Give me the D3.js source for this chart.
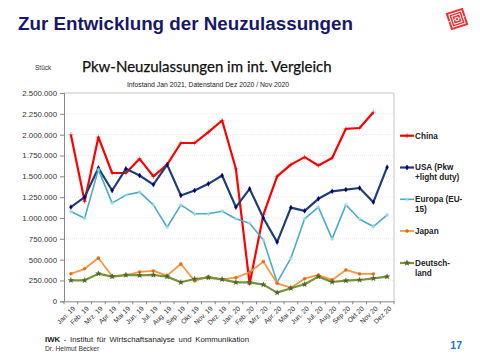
<!DOCTYPE html>
<html><head><meta charset="utf-8">
<script src="https://cdn.jsdelivr.net/npm/d3@7"></script>
<style>html,body{margin:0;padding:0;background:#fff;}svg{display:block;}</style>
</head><body>
<svg id="c" width="480" height="360"></svg>
<script>
const months = ["Jan. 19","Feb. 19","Mrz. 19","Apr. 19","Mai 19","Jun. 19","Jul. 19","Aug. 19","Sep. 19","Okt. 19","Nov. 19","Dez. 19","Jan. 20","Feb. 20","Mrz. 20","Apr. 20","Mai 20","Jun. 20","Jul. 20","Aug 20","Sep 20","Okt 20","Nov 20","Dez 20"];
const china = [2000000,1200000,1970000,1540000,1540000,1710000,1500000,1640000,1900000,1900000,2030000,2170000,1590000,210000,1040000,1500000,1640000,1730000,1630000,1720000,2070000,2080000,2270000,null];
const usa = [1130000,1250000,1600000,1330000,1590000,1510000,1400000,1640000,1270000,1330000,1410000,1510000,1130000,1350000,1000000,710000,1125000,1085000,1230000,1320000,1340000,1360000,1190000,1610000];
const europa = [1077000,997000,1580000,1178000,1275000,1310000,1157000,889000,1157000,1050000,1050000,1080000,990000,937000,737000,228000,517000,990000,1130000,749000,1157000,985000,897000,1037000];
const japan = [330000,390000,520000,300000,312000,352000,364000,308000,448000,244000,296000,264000,284000,349000,476000,216000,164000,272000,316000,256000,376000,328000,328000,null];
const deutschland = [252000,252000,332000,296000,316000,312000,316000,296000,228000,268000,284000,264000,228000,228000,200000,104000,156000,204000,296000,232000,248000,256000,276000,296000];
const yTicks = [0,250000,500000,750000,1000000,1250000,1500000,1750000,2000000,2250000,2500000];
const seriesNames = [["China"],["USA (Pkw","+light duty)"],["Europa (EU-","15)"],["Japan"],["Deutsch-","land"]];

const svg = d3.select("#c");
const F = "Liberation Sans, Arial, sans-serif";
const de = d3.formatLocale({decimal:",",thousands:".",grouping:[3],currency:["","€"]});
const fmt = de.format(",d");

// header
svg.append("text").attr("x",18).attr("y",30).attr("font-family",F).attr("font-weight","bold")
  .attr("font-size",18.8).attr("fill","#17176b").text("Zur Entwicklung der Neuzulassungen");
// logo
const lg = svg.append("g").attr("transform","translate(457,19) rotate(-18)");
lg.append("rect").attr("x",-9).attr("y",-9).attr("width",18).attr("height",18).attr("fill","#f03030");
[6.5,4,1.5].forEach(s=>lg.append("rect").attr("x",-s).attr("y",-s).attr("width",2*s).attr("height",2*s)
  .attr("fill","none").attr("stroke","#fff").attr("stroke-width",1));
lg.append("line").attr("x1",-9).attr("x2",9).attr("y1",0).attr("y2",0).attr("stroke","#fff").attr("stroke-width",0.8).attr("stroke-dasharray","2,3");

svg.append("text").attr("x",35).attr("y",70).attr("font-family",F).attr("font-size",6.5).attr("fill","#333").text("Stück");
svg.append("text").attr("x",82).attr("y",72).attr("font-family","Lato, 'Open Sans', sans-serif")
  .attr("font-size",15).attr("fill","#111").attr("stroke","#111").attr("stroke-width",0.25).text("Pkw-Neuzulassungen im int. Vergleich");
svg.append("text").attr("x",208).attr("y",87).attr("text-anchor","middle").attr("font-family",F)
  .attr("font-size",6.8).attr("fill","#222").text("Infostand  Jan 2021,  Datenstand  Dez 2020 / Nov 2020");

const L=64, R=394, T=93, B=301.3;
const x = d3.scaleBand().domain(months).range([L,R]);
const y = d3.scaleLinear().domain([0,2500000]).range([B,T]);

// grid
svg.append("g").selectAll("line").data(yTicks.slice(1)).join("line")
  .attr("x1",L).attr("x2",R).attr("y1",d=>y(d)).attr("y2",d=>y(d))
  .attr("stroke","#e4e4e4").attr("stroke-width",0.8).attr("stroke-dasharray","1,1");
// top/right border
svg.append("path").attr("d",`M${L},${T}H${R}V${B}`).attr("fill","none").attr("stroke","#c8c8c8").attr("stroke-width",1);

const yAx = svg.append("g").attr("transform",`translate(${L},0)`)
  .call(d3.axisLeft(y).tickValues(yTicks).tickFormat(fmt).tickSize(4).tickPadding(3));
yAx.selectAll("text").attr("font-family",F).attr("font-size",7.8).attr("fill","#333");
yAx.selectAll("line,path").attr("stroke","#888");

const xAx = svg.append("g").attr("transform",`translate(0,${B})`)
  .call(d3.axisBottom(x).tickSize(0).tickPadding(0));
xAx.select("path").attr("stroke","#888");
xAx.selectAll("text").remove();
svg.append("g").selectAll("line").data(months.concat(["end"])).join("line")
  .attr("x1",(d,i)=>L+i*x.step()).attr("x2",(d,i)=>L+i*x.step()).attr("y1",B).attr("y2",B+3).attr("stroke","#888");
svg.append("g").selectAll("text").data(months).join("text")
  .attr("transform",d=>`translate(${x(d)+x.bandwidth()/2+3},${B+6}) rotate(-45)`)
  .attr("text-anchor","end").attr("font-family",F).attr("font-size",6.8).attr("fill","#333").attr("dy","0.35em").text(d=>d);

const cx = d=>x(d)+x.bandwidth()/2;
const series = [
  {v:china,c:"#ff0000",mc:"#cc0000",sym:d3.symbolPlus,ms:10},
  {v:usa,c:"#1f3e78",mc:"#000070",sym:d3.symbolDiamond,ms:7},
  {v:europa,c:"#4bacc6",mc:"#9fd8e6",sym:d3.symbolAsterisk,ms:12},
  {v:japan,c:"#f79646",mc:"#e46c0a",sym:d3.symbolCircle,ms:7},
  {v:deutschland,c:"#77933c",mc:"#4f6228",sym:d3.symbolStar,ms:9}
];
const line = d3.line().defined(d=>d.v!=null).x(d=>cx(d.m)).y(d=>y(d.v));
const lw = [2.2,2.2,1.6,1.8,2.2];
series.forEach((s,k)=>{
  const pts = months.map((m,i)=>({m,v:s.v[i]}));
  svg.append("path").datum(pts).attr("d",line).attr("fill","none").attr("stroke",s.c)
    .attr("stroke-width",lw[k]).attr("stroke-linejoin","round");
  svg.append("g").selectAll("path").data(pts.filter(p=>p.v!=null)).join("path")
    .attr("transform",p=>`translate(${cx(p.m)},${y(p.v)})`)
    .attr("d",d3.symbol(s.sym,s.ms))
    .attr("fill",s.sym===d3.symbolAsterisk?"none":s.mc)
    .attr("stroke",s.mc).attr("stroke-width",s.sym===d3.symbolAsterisk?0.9:0.4);
});

// legend
const legY = [135.7,167.5,199.3,231,263];
series.forEach((s,k)=>{
  const g = svg.append("g").attr("transform",`translate(400,${legY[k]})`);
  g.append("line").attr("x1",0).attr("x2",14).attr("stroke",s.c).attr("stroke-width",lw[k]);
  g.append("path").attr("transform","translate(7,0)").attr("d",d3.symbol(s.sym,s.ms))
    .attr("fill",s.sym===d3.symbolAsterisk?"none":s.mc).attr("stroke",s.mc).attr("stroke-width",0.6);
  seriesNames[k].forEach((t,j)=>g.append("text").attr("x",15).attr("y",j*9.7).attr("dy","0.35em")
    .attr("font-family",F).attr("font-weight","bold").attr("font-size",8.2).attr("fill","#222").text(t));
});

// footer
const ft = svg.append("text").attr("x",45).attr("y",342).attr("font-family",F).attr("font-size",7.8).attr("fill","#222").attr("word-spacing",1.5);
ft.append("tspan").attr("font-weight","bold").text("IWK");
ft.append("tspan").text("  -  Institut  für  Wirtschaftsanalyse  und  Kommunikation");
svg.append("text").attr("x",45).attr("y",351).attr("font-family",F).attr("font-size",6.7).attr("fill","#333").text("Dr. Helmut Becker");
svg.append("text").attr("x",462).attr("y",349).attr("text-anchor","end").attr("font-family",F).attr("font-weight","bold")
  .attr("font-size",10.5).attr("fill","#2070c0").text("17");
</script>
</body></html>
